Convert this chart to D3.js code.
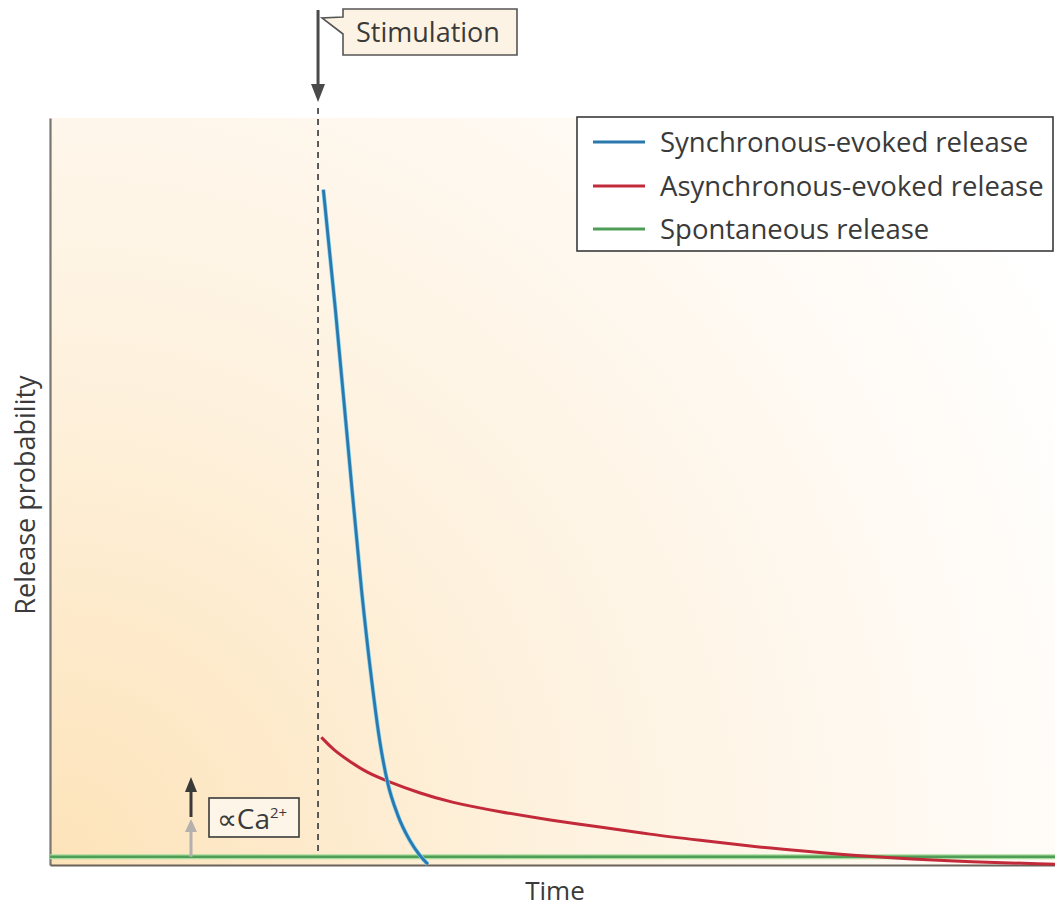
<!DOCTYPE html>
<html>
<head>
<meta charset="utf-8">
<script src="https://cdn.jsdelivr.net/npm/d3@7"></script>
<style>
  body { margin: 0; background: #fff; }
  text { font-family: "Open Sans", "Noto Sans", sans-serif; fill: #3a3a3a; }
</style>
</head>
<body>
<svg id="chart"></svg>
<script>
// time in arbitrary units (0..100), release probability (0..1)
const seriesNames = ["Synchronous-evoked release", "Asynchronous-evoked release", "Spontaneous release"];
const seriesColors = ["#2a78ae", "#c22a3a", "#4e9e57"];

const syncTime = [27.2, 28.4, 29.6, 31.0, 32.0, 32.8, 33.6, 34.6, 35.8, 36.8, 37.6];
const syncProb = [0.904, 0.743, 0.569, 0.368, 0.248, 0.167, 0.110, 0.067, 0.033, 0.013, 0.001];

const asyncTime = [27.0, 28.2, 29.9, 31.5, 33.6, 36.8, 39.8, 44.8, 49.8, 54.7, 59.7, 64.7, 69.7, 74.6, 81.6, 89.6, 100];
const asyncProb = [0.171, 0.154, 0.138, 0.124, 0.112, 0.096, 0.084, 0.071, 0.060, 0.051, 0.041, 0.033, 0.025, 0.019, 0.011, 0.005, 0.001];

const spontTime = [0, 100];
const spontProb = [0.011, 0.011];

const stimTime = 26.67;

const W = 1055, H = 908;
const margin = {top: 118, right: 0, bottom: 43, left: 50};

const svg = d3.select("#chart").attr("width", W).attr("height", H);

const x = d3.scaleLinear().domain([0, 100]).range([margin.left, W - margin.right]);
const y = d3.scaleLinear().domain([0, 1]).range([H - margin.bottom, margin.top]);

// background wash
const defs = svg.append("defs");
const grad = defs.append("radialGradient")
    .attr("id", "wash")
    .attr("gradientUnits", "userSpaceOnUse")
    .attr("cx", x(0)).attr("cy", y(0)).attr("r", 1150);
grad.append("stop").attr("offset", 0).attr("stop-color", "#fde3b9");
grad.append("stop").attr("offset", 0.45).attr("stop-color", "#fef2df");
grad.append("stop").attr("offset", 0.8).attr("stop-color", "#fffaf4");
grad.append("stop").attr("offset", 1).attr("stop-color", "#ffffff");

svg.append("rect")
    .attr("x", x(0)).attr("y", y(1))
    .attr("width", x(100) - x(0)).attr("height", y(0) - y(1))
    .attr("fill", "url(#wash)");

// axes (no ticks)
const yAxis = d3.axisLeft(y).tickValues([]).tickSizeOuter(0);
svg.append("g")
    .attr("transform", "translate(" + x(0) + ",0)")
    .call(yAxis)
    .select(".domain").attr("stroke", "#7a7672").attr("stroke-width", 2.2);

const xAxis = d3.axisBottom(x).tickValues([]).tickSizeOuter(0);
svg.append("g")
    .attr("transform", "translate(0," + y(0) + ")")
    .call(xAxis)
    .select(".domain").attr("stroke", "#6b625a").attr("stroke-width", 2.2);

// stimulation dashed line
svg.append("line")
    .attr("x1", x(stimTime)).attr("x2", x(stimTime))
    .attr("y1", 108).attr("y2", y(spontProb[0]))
    .attr("stroke", "#4a4a4a").attr("stroke-width", 1.8)
    .attr("stroke-dasharray", "6,5");

// stimulation arrow
svg.append("line")
    .attr("x1", x(stimTime)).attr("x2", x(stimTime))
    .attr("y1", 10).attr("y2", 88)
    .attr("stroke", "#4a4a4a").attr("stroke-width", 3);
svg.append("path")
    .attr("d", d3.line()([[x(stimTime) - 7, 84], [x(stimTime) + 7, 84], [x(stimTime), 102]]) + "Z")
    .attr("fill", "#4a4a4a");

// stimulation callout
const sx = x(stimTime);
svg.append("path")
    .attr("d", d3.line()([[343, 9], [517, 9], [517, 55], [343, 55], [343, 34], [sx + 4, 18], [343, 17]]) + "Z")
    .attr("fill", "#fdf3e4").attr("stroke", "#555").attr("stroke-width", 1.6);
svg.append("text")
    .attr("x", 428).attr("y", 42)
    .attr("text-anchor", "middle")
    .attr("font-size", 27)
    .text("Stimulation");

// lines
const line = d3.line()
    .x(d => x(d[0]))
    .y(d => y(d[1]))
    .curve(d3.curveMonotoneX);

const smoothLine = d3.line()
    .x(d => x(d[0]))
    .y(d => y(d[1]))
    .curve(d3.curveBasis);

const spont = d3.zip(spontTime, spontProb);
svg.append("path").datum(spont)
    .attr("d", line).attr("fill", "none")
    .attr("stroke", "#a9dc9c").attr("stroke-width", 5);
svg.append("path").datum(spont)
    .attr("d", line).attr("fill", "none")
    .attr("stroke", seriesColors[2]).attr("stroke-width", 2.5);

svg.append("path").datum(d3.zip(asyncTime, asyncProb))
    .attr("d", smoothLine).attr("fill", "none")
    .attr("stroke", seriesColors[1]).attr("stroke-width", 3);

svg.append("path").datum(d3.zip(syncTime, syncProb))
    .attr("d", line).attr("fill", "none")
    .attr("stroke", "#7fd0ee").attr("stroke-width", 4.2);
svg.append("path").datum(d3.zip(syncTime, syncProb))
    .attr("d", line).attr("fill", "none")
    .attr("stroke", seriesColors[0]).attr("stroke-width", 2.8);

// Ca2+ arrows
const ax = 191;
svg.append("line")
    .attr("x1", ax).attr("x2", ax).attr("y1", y(spontProb[0])).attr("y2", 830)
    .attr("stroke", "#b3b0ad").attr("stroke-width", 3);
svg.append("path")
    .attr("d", d3.line()([[ax - 6, 832], [ax + 6, 832], [ax, 819]]) + "Z")
    .attr("fill", "#b3b0ad");
svg.append("line")
    .attr("x1", ax).attr("x2", ax).attr("y1", 817).attr("y2", 790)
    .attr("stroke", "#3a3a3a").attr("stroke-width", 3);
svg.append("path")
    .attr("d", d3.line()([[ax - 6, 792], [ax + 6, 792], [ax, 777]]) + "Z")
    .attr("fill", "#3a3a3a");

svg.append("rect")
    .attr("x", 209).attr("y", 798).attr("width", 90).attr("height", 39)
    .attr("fill", "#fdf5e8").attr("stroke", "#3a3a3a").attr("stroke-width", 1.6);
const ca = svg.append("text")
    .attr("x", 252).attr("y", 829)
    .attr("text-anchor", "middle")
    .attr("font-size", 28);
ca.append("tspan").text("\u221DCa");
ca.append("tspan").attr("font-size", 15).attr("dy", -11).text("2+");

// legend
const legend = svg.append("g");
legend.append("rect")
    .attr("x", 577).attr("y", 117).attr("width", 476).attr("height", 134)
    .attr("fill", "#fff").attr("stroke", "#3a3a3a").attr("stroke-width", 1.6);
const rowY = [142, 186, 229];
seriesNames.forEach((name, i) => {
    legend.append("line")
        .attr("x1", 593).attr("x2", 645)
        .attr("y1", rowY[i]).attr("y2", rowY[i])
        .attr("stroke", seriesColors[i]).attr("stroke-width", 3);
    legend.append("text")
        .attr("x", 660).attr("y", rowY[i] + 10)
        .attr("font-size", 27.5)
        .text(name);
});

// axis titles
svg.append("text")
    .attr("transform", "translate(35," + 495 + ") rotate(-90)")
    .attr("text-anchor", "middle")
    .attr("font-size", 27)
    .text("Release probability");
svg.append("text")
    .attr("x", 555).attr("y", 900)
    .attr("text-anchor", "middle")
    .attr("font-size", 26)
    .text("Time");
</script>
</body>
</html>
